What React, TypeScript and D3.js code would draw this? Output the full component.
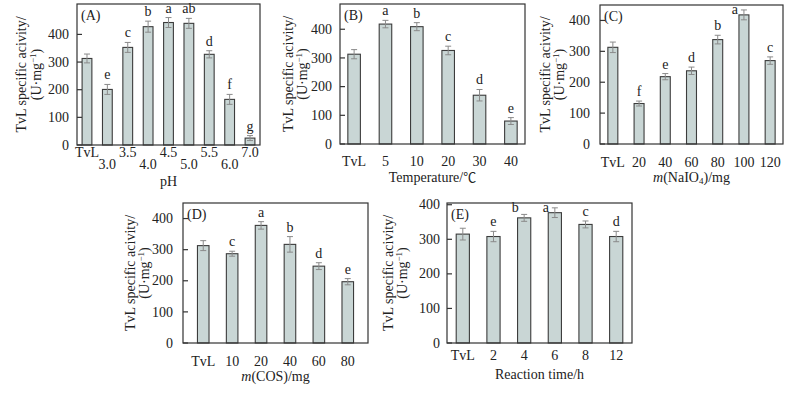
import React, { useEffect, useRef } from "react";
import * as d3 from "d3";

// (A) pH
const phCats = ["TvL", "3.0", "3.5", "4.0", "4.5", "5.0", "5.5", "6.0", "7.0"];
const phVals = [313, 201, 353, 428, 443, 440, 328, 165, 25];
const phErr = [16, 18, 18, 20, 18, 18, 13, 18, 9];
const phSig = ["", "e", "c", "b", "a", "ab", "d", "f", "g"];

// (B) temperature
const tempCats = ["TvL", "5", "10", "20", "30", "40"];
const tempVals = [313, 418, 409, 326, 170, 80];
const tempErr = [16, 13, 14, 15, 20, 12];
const tempSig = ["", "a", "b", "c", "d", "e"];

// (C) NaIO4 amount
const naCats = ["TvL", "20", "40", "60", "80", "100", "120"];
const naVals = [313, 131, 218, 237, 338, 418, 270];
const naErr = [17, 8, 10, 12, 14, 16, 12];
const naSig = ["", "f", "e", "d", "b", "a", "c"];

// (D) COS amount
const cosCats = ["TvL", "10", "20", "40", "60", "80"];
const cosVals = [313, 287, 378, 317, 247, 197];
const cosErr = [16, 8, 12, 25, 11, 10];
const cosSig = ["", "c", "a", "b", "d", "e"];

// (E) reaction time
const timeCats = ["TvL", "2", "4", "6", "8", "12"];
const timeVals = [315, 308, 362, 377, 343, 308];
const timeErr = [17, 15, 10, 14, 10, 15];
const timeSig = ["", "e", "b", "a", "c", "d"];

const yTicks = [0, 100, 200, 300, 400];

const panels = [
  { tag: "(A)", cats: phCats, vals: phVals, err: phErr, sig: phSig, x0: 77, x1: 260, y0: 4, y1: 145, ymax: 510, pi: 0.52, po: 0.25, stagger: true, xt: ["pH"], xtY: 186, tickY: 157, tickGap: 8, titleDx: [56, 41] },
  { tag: "(B)", cats: tempCats, vals: tempVals, err: tempErr, sig: tempSig, x0: 340, x1: 525, y0: 4, y1: 144, ymax: 488, pi: 0.6, po: 0.25, stagger: false, xt: ["Temperature/", "℃"], xtY: 182, tickY: 166, tickGap: 8, titleDx: [52, 38] },
  { tag: "(C)", cats: naCats, vals: naVals, err: naErr, sig: naSig, x0: 600, x1: 783, y0: 5, y1: 144, ymax: 450, pi: 0.62, po: 0.3, stagger: false, xt: ["m", "(NaIO", "4", ")/mg"], xtY: 182, tickY: 167, tickGap: 10, titleDx: [55, 41] },
  { tag: "(D)", cats: cosCats, vals: cosVals, err: cosErr, sig: cosSig, x0: 183, x1: 368, y0: 203, y1: 343, ymax: 450, pi: 0.6, po: 0.5, stagger: false, xt: ["m", "(COS)/mg"], xtY: 381, tickY: 366, tickGap: 10, titleDx: [53, 39] },
  { tag: "(E)", cats: timeCats, vals: timeVals, err: timeErr, sig: timeSig, x0: 447, x1: 632, y0: 203, y1: 343, ymax: 405, pi: 0.57, po: 0.3, stagger: false, xt: ["Reaction time/h"], xtY: 379, tickY: 360, tickGap: 7, titleDx: [59, 45] },
];

const font = "'Liberation Serif', 'Times New Roman', serif";
const fs = 14;
const ink = "#222";

export default function App() {
  const svgRef = useRef<SVGSVGElement>(null);

  useEffect(() => {
    const svg = d3.select(svgRef.current);
    svg.selectAll("*").remove();
    svg.style("font-family", font);

    panels.forEach((p) => {
      const g = svg.append("g");
      const x = d3.scaleBand().domain(p.cats).range([p.x0, p.x1]).paddingInner(p.pi).paddingOuter(p.po);
      const y = d3.scaleLinear().domain([0, p.ymax]).range([p.y1, p.y0]);
      const cx = (i: number) => x(p.cats[i]) + x.bandwidth() / 2;

      // bars
      g.selectAll("rect.bar")
        .data(p.vals)
        .join("rect")
        .attr("class", "bar")
        .attr("x", (d, i) => x(p.cats[i]))
        .attr("y", (d) => y(d))
        .attr("width", x.bandwidth())
        .attr("height", (d) => y(0) - y(d))
        .attr("fill", "#c9d6d5")
        .attr("stroke", "#3c3c3c")
        .attr("stroke-width", 1.1);

      // error bars
      const eb = g.selectAll("g.err").data(p.vals).join("g").attr("class", "err");
      eb.append("line")
        .attr("x1", (d, i) => cx(i)).attr("x2", (d, i) => cx(i))
        .attr("y1", (d, i) => y(d + p.err[i])).attr("y2", (d, i) => y(d - p.err[i]))
        .attr("stroke", "#8a8a8a").attr("stroke-width", 1);
      [1, -1].forEach((s) => {
        eb.append("line")
          .attr("x1", (d, i) => cx(i) - 3).attr("x2", (d, i) => cx(i) + 3)
          .attr("y1", (d, i) => y(d + s * p.err[i])).attr("y2", (d, i) => y(d + s * p.err[i]))
          .attr("stroke", "#8a8a8a").attr("stroke-width", 1);
      });

      // significance letters; squeezed to the left when they would hit the frame
      const sigBase = (i: number) => y(p.vals[i] + p.err[i]) - 5;
      g.selectAll("text.sig")
        .data(p.sig)
        .join("text")
        .attr("class", "sig")
        .attr("x", (d, i) => (sigBase(i) < p.y0 + 8 ? cx(i) - 9 : cx(i)))
        .attr("y", (d, i) => (sigBase(i) < p.y0 + 8 ? Math.max(sigBase(i), p.y0 + 9) : sigBase(i)))
        .attr("text-anchor", "middle")
        .attr("font-size", fs)
        .attr("fill", ink)
        .text((d) => d);

      // frame
      g.append("rect")
        .attr("x", p.x0).attr("y", p.y0)
        .attr("width", p.x1 - p.x0).attr("height", p.y1 - p.y0)
        .attr("fill", "none").attr("stroke", "#333").attr("stroke-width", 1.2);

      // y ticks (inward)
      yTicks.forEach((t) => {
        g.append("line")
          .attr("x1", p.x0).attr("x2", p.x0 + 5)
          .attr("y1", y(t)).attr("y2", y(t))
          .attr("stroke", "#333").attr("stroke-width", 1.2);
        g.append("text")
          .attr("x", p.x0 - p.tickGap).attr("y", y(t)).attr("dy", "0.33em")
          .attr("text-anchor", "end").attr("font-size", fs).attr("fill", ink)
          .text(t);
      });

      // x labels
      p.cats.forEach((c, i) => {
        g.append("text")
          .attr("x", cx(i))
          .attr("y", p.stagger && i % 2 === 1 ? p.tickY + 12 : p.tickY)
          .attr("text-anchor", "middle").attr("font-size", fs).attr("fill", ink)
          .text(c);
      });

      // panel tag
      g.append("text")
        .attr("x", p.x0 + 4).attr("y", p.y0 + 16)
        .attr("font-size", fs).attr("fill", ink)
        .text(p.tag);

      // x title
      const xt = g.append("text")
        .attr("x", (p.x0 + p.x1) / 2).attr("y", p.xtY)
        .attr("text-anchor", "middle").attr("font-size", fs).attr("fill", ink);
      if (p.xt.length === 1) {
        xt.text(p.xt[0]);
      } else if (p.xt[0] === "m") {
        xt.append("tspan").attr("font-style", "italic").text(p.xt[0]);
        xt.append("tspan").text(p.xt[1]);
        if (p.xt.length > 2) {
          xt.append("tspan").attr("font-size", 9).attr("dy", 2).text(p.xt[2]);
          xt.append("tspan").attr("dy", -2).text(p.xt[3]);
        }
      } else {
        xt.append("tspan").text(p.xt[0]);
        xt.append("tspan").attr("font-family", "'Noto Sans CJK SC', sans-serif").attr("font-size", 13).text(p.xt[1]);
      }

      // y title, two lines
      const cy = (p.y0 + p.y1) / 2;
      g.append("text")
        .attr("transform", `translate(${p.x0 - p.titleDx[0]},${cy}) rotate(-90)`)
        .attr("dy", "0.35em").attr("text-anchor", "middle")
        .attr("font-size", fs).attr("fill", ink)
        .text("TvL specific acivity/");
      const t2 = g.append("text")
        .attr("transform", `translate(${p.x0 - p.titleDx[1]},${cy}) rotate(-90)`)
        .attr("dy", "0.35em").attr("text-anchor", "middle")
        .attr("font-size", fs).attr("fill", ink);
      t2.append("tspan").text("(U·mg");
      t2.append("tspan").attr("font-size", 9).attr("dy", -5).text("−1");
      t2.append("tspan").attr("dy", 5).text(")");
    });
  }, []);

  return (
    <svg
      ref={svgRef}
      width={800}
      height={393}
      style={{ position: "absolute", left: 0, top: 0, background: "#fff" }}
    />
  );
}
